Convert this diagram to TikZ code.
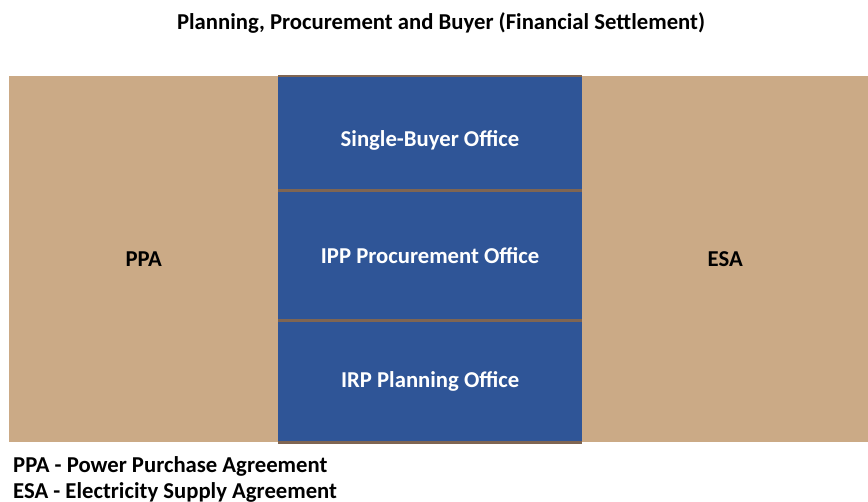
\documentclass[tikz,border=0pt]{standalone}
\usepackage{fontspec}
\setmainfont{Carlito}
\definecolor{panelTan}{HTML}{CBAA86}
\definecolor{officeBlue}{HTML}{2F5597}
\definecolor{lineBrown}{HTML}{7F6552}

\begin{document}
\begin{tikzpicture}[x=1pt,y=-1pt,
  font=\fontsize{22.7}{27}\selectfont\bfseries,
  panel/.style={fill=panelTan,inner sep=0pt,anchor=north west,minimum height=366pt},
  office/.style={fill=officeBlue,text=white,inner sep=0pt,anchor=north west,minimum width=304pt},
  sep/.style={draw=lineBrown,line width=2.5pt}]
\useasboundingbox (0,0) rectangle (868,502);
\node (title) at (441,23) {Planning, Procurement and Buyer (Financial Settlement)};
\node[panel,minimum width=269pt] (ppa) at (9,76) {PPA};
\node[panel,minimum width=286pt] (esa) at (582,76) {ESA};
\node[office,minimum height=114pt] (buyer) at (278,76) {};
\node[office,minimum height=130pt] (procure) at (278,190) {IPP Procurement Office};
\node[office,minimum height=122pt] (plan) at (278,320) {IRP Planning Office};
\node[text=white] (buyerlbl) at (430,140) {Single-Buyer Office};
\draw[sep] (buyer.north west) -- (buyer.north east);
\draw[sep] (buyer.south west) -- (buyer.south east);
\draw[sep] (procure.south west) -- (procure.south east);
\draw[sep] (plan.south west) -- (plan.south east);
\node[anchor=west,inner sep=0pt] (leg1) at (13,466) {PPA - Power Purchase Agreement};
\node[anchor=west,inner sep=0pt] (leg2) at (13,492) {ESA - Electricity Supply Agreement};
\end{tikzpicture}
\end{document}
